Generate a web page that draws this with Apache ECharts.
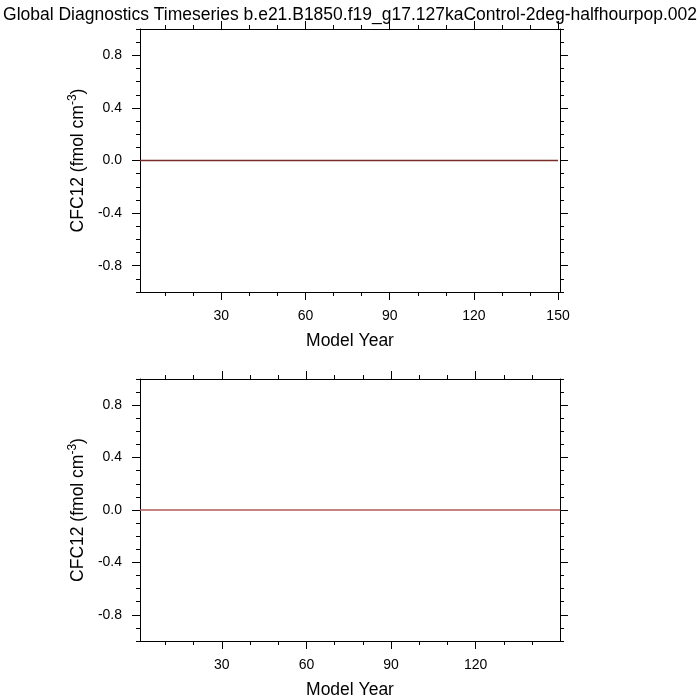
<!DOCTYPE html>
<html><head><meta charset="utf-8">
<script src="https://cdn.jsdelivr.net/npm/echarts@6/dist/echarts.min.js"></script>
<style>html,body{margin:0;padding:0;background:#fff}#c{width:700px;height:700px}</style>
</head><body><div id="c"></div>
<script>
const titleText = 'Global Diagnostics Timeseries b.e21.B1850.f19_g17.127kaControl-2deg-halfhourpop.002';
const years = [1,2,3,4,5,6,7,8,9,10,11,12,13,14,15,16,17,18,19,20,21,22,23,24,25,26,27,28,29,30,
31,32,33,34,35,36,37,38,39,40,41,42,43,44,45,46,47,48,49,50,51,52,53,54,55,56,57,58,59,60,
61,62,63,64,65,66,67,68,69,70,71,72,73,74,75,76,77,78,79,80,81,82,83,84,85,86,87,88,89,90,
91,92,93,94,95,96,97,98,99,100,101,102,103,104,105,106,107,108,109,110,111,112,113,114,115,116,117,118,119,120,
121,122,123,124,125,126,127,128,129,130,131,132,133,134,135,136,137,138,139,140,141,142,143,144,145,146,147,148,149,150];
const cfc12Top = [0,0,0,0,0,0,0,0,0,0,0,0,0,0,0,0,0,0,0,0,0,0,0,0,0,0,0,0,0,0,
0,0,0,0,0,0,0,0,0,0,0,0,0,0,0,0,0,0,0,0,0,0,0,0,0,0,0,0,0,0,
0,0,0,0,0,0,0,0,0,0,0,0,0,0,0,0,0,0,0,0,0,0,0,0,0,0,0,0,0,0,
0,0,0,0,0,0,0,0,0,0,0,0,0,0,0,0,0,0,0,0,0,0,0,0,0,0,0,0,0,0,
0,0,0,0,0,0,0,0,0,0,0,0,0,0,0,0,0,0,0,0,0,0,0,0,0,0,0,0,0,0];
const cfc12Bottom = [0,0,0,0,0,0,0,0,0,0,0,0,0,0,0,0,0,0,0,0,0,0,0,0,0,0,0,0,0,0,
0,0,0,0,0,0,0,0,0,0,0,0,0,0,0,0,0,0,0,0,0,0,0,0,0,0,0,0,0,0,
0,0,0,0,0,0,0,0,0,0,0,0,0,0,0,0,0,0,0,0,0,0,0,0,0,0,0,0,0,0,
0,0,0,0,0,0,0,0,0,0,0,0,0,0,0,0,0,0,0,0,0,0,0,0,0,0,0,0,0,0,
0,0,0,0,0,0,0,0,0,0,0,0,0,0,0,0,0,0,0,0,0,0,0,0,0,0,0,0,0,0];
const xMajorTicks = [30, 60, 90, 120, 150];
const xMinorTicks = [10, 20, 40, 50, 70, 80, 100, 110, 130, 140];
const yMajorTicks = [-0.8, -0.4, 0, 0.4, 0.8];
const yMinorTicks = [-1, -0.9, -0.7, -0.6, -0.5, -0.3, -0.2, -0.1, 0.1, 0.2, 0.3, 0.5, 0.6, 0.7, 0.9, 1];
const yName = '{a|CFC12 (fmol cm}{s|-3}{a|)}';
const xName = 'Model Year';

const FONT = '"Liberation Sans", Arial, Helvetica, sans-serif';
const grids = [
  {left: 140, width: 420, top: 29, height: 263, xmin: 1, xmax: 150.7, color: '#7c2b2b', data: cfc12Top},
  {left: 140, width: 420, top: 379, height: 262, xmin: 1, xmax: 149.9, color: '#b55a5a', data: cfc12Bottom}
];

const xAxes = [], yAxes = [], series = [], gridOpts = [];
grids.forEach((g, gi) => {
  gridOpts.push({left: g.left, width: g.width, top: g.top, height: g.height, containLabel: false});
  const base = {type: 'value', gridIndex: gi, min: g.xmin, max: g.xmax, splitLine: {show: false}};
  xAxes.push(Object.assign({}, base, {
    position: 'bottom',
    name: xName, nameLocation: 'middle', nameGap: 40,
    nameTextStyle: {fontFamily: FONT, fontSize: 17.5, color: '#000'},
    axisLine: {show: true, onZero: false, lineStyle: {color: '#000', width: 1}},
    axisTick: {show: true, inside: false, length: 8, customValues: xMajorTicks, lineStyle: {color: '#000', width: 1}},
    axisLabel: {show: true, margin: 17, customValues: xMajorTicks.filter(v => v <= g.xmax), fontFamily: FONT, fontSize: 14, color: '#000'}
  }));
  xAxes.push(Object.assign({}, base, {
    position: 'bottom',
    axisLine: {show: false, onZero: false},
    axisTick: {show: true, inside: false, length: 4, customValues: xMinorTicks, lineStyle: {color: '#000', width: 1}},
    axisLabel: {show: false}
  }));
  xAxes.push(Object.assign({}, base, {
    position: 'top',
    axisLine: {show: true, onZero: false, lineStyle: {color: '#000', width: 1}},
    axisTick: {show: true, inside: false, length: 8, customValues: xMajorTicks, lineStyle: {color: '#000', width: 1}},
    axisLabel: {show: false}
  }));
  xAxes.push(Object.assign({}, base, {
    position: 'top',
    axisLine: {show: false, onZero: false},
    axisTick: {show: true, inside: false, length: 4, customValues: xMinorTicks, lineStyle: {color: '#000', width: 1}},
    axisLabel: {show: false}
  }));
  const ybase = {type: 'value', gridIndex: gi, min: -1, max: 1, splitLine: {show: false}};
  yAxes.push(Object.assign({}, ybase, {
    position: 'left',
    name: yName, nameLocation: 'middle', nameGap: 47, nameRotate: 90,
    nameTextStyle: {fontFamily: FONT, fontSize: 17.5, color: '#000',
      rich: {a: {fontFamily: FONT, fontSize: 17.5, color: '#000'}, s: {fontFamily: FONT, fontSize: 12, color: '#000', padding: [0, 0, 10, 0]}}},
    axisLine: {show: true, onZero: false, lineStyle: {color: '#000', width: 1}},
    axisTick: {show: true, inside: false, length: 8, customValues: yMajorTicks, lineStyle: {color: '#000', width: 1}},
    axisLabel: {show: true, margin: 18, customValues: yMajorTicks, formatter: v => v.toFixed(1), fontFamily: FONT, fontSize: 14, color: '#000'}
  }));
  yAxes.push(Object.assign({}, ybase, {
    position: 'left',
    axisLine: {show: false, onZero: false},
    axisTick: {show: true, inside: false, length: 4, customValues: yMinorTicks, lineStyle: {color: '#000', width: 1}},
    axisLabel: {show: false}
  }));
  yAxes.push(Object.assign({}, ybase, {
    position: 'right',
    axisLine: {show: true, onZero: false, lineStyle: {color: '#000', width: 1}},
    axisTick: {show: true, inside: false, length: 8, customValues: yMajorTicks, lineStyle: {color: '#000', width: 1}},
    axisLabel: {show: false}
  }));
  yAxes.push(Object.assign({}, ybase, {
    position: 'right',
    axisLine: {show: false, onZero: false},
    axisTick: {show: true, inside: false, length: 4, customValues: yMinorTicks, lineStyle: {color: '#000', width: 1}},
    axisLabel: {show: false}
  }));
  series.push({
    type: 'line', xAxisIndex: gi * 4, yAxisIndex: gi * 4,
    data: years.map((y, i) => [y, g.data[i]]),
    showSymbol: false, symbol: 'none', animation: false,
    lineStyle: {color: g.color, width: 1.5}, z: 5
  });
});

const chart = echarts.init(document.getElementById('c'), null, {renderer: 'canvas'});
chart.setOption({
  animation: false,
  backgroundColor: '#fff',
  title: {text: titleText, left: 'center', top: 1,
    textStyle: {fontFamily: FONT, fontSize: 17.5, fontWeight: 'normal', color: '#000'}},
  grid: gridOpts,
  xAxis: xAxes,
  yAxis: yAxes,
  series: series
});
</script></body></html>
